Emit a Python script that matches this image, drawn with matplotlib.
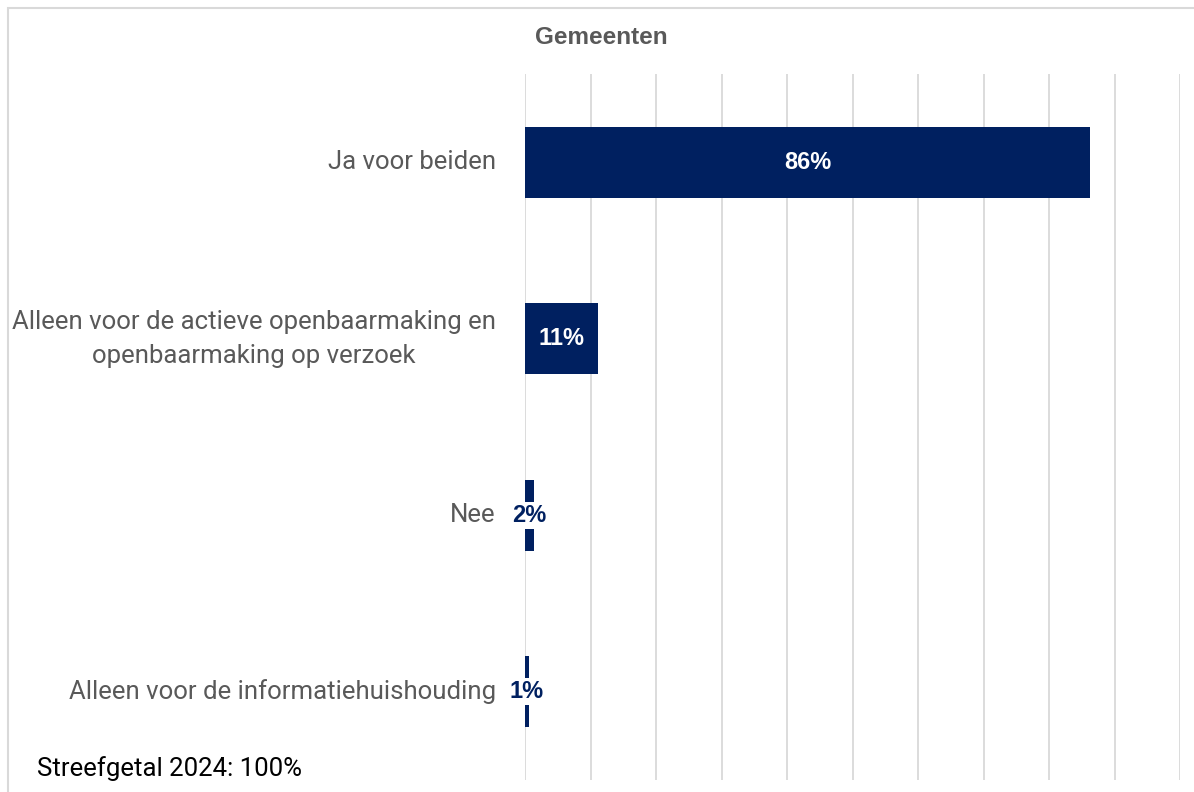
import matplotlib.pyplot as plt
from matplotlib.patches import Rectangle

categories = [
    "Ja voor beiden",
    "Alleen voor de actieve openbaarmaking en\nopenbaarmaking op verzoek",
    "Nee",
    "Alleen voor de informatiehuishouding",
]
values = [0.863, 0.111, 0.014, 0.006]
labels = ["86%", "11%", "2%", "1%"]

navy = "#002060"
grey = "#595959"

W, H = 1194, 792
fig = plt.figure(figsize=(W / 100, H / 100), dpi=100)

# outer chart frame
fig.patches.append(Rectangle((8 / W, -0.05), 1.1, 1 - 8 / H + 0.05,
                             transform=fig.transFigure, fill=False,
                             edgecolor="#d9d9d9", linewidth=1.5))

ax = fig.add_axes([525 / W, 1 - 780 / H, (1180 - 525) / W, (780 - 74) / H])
y = list(range(len(categories)))
ax.barh(y, values, height=0.4, color=navy, zorder=2)
ax.set_ylim(len(categories) - 0.5, -0.5)
ax.set_xlim(0, 1)
ax.set_xticks([i / 10 for i in range(11)])
ax.xaxis.grid(True, color="#d9d9d9", linewidth=1.3, zorder=0)
ax.tick_params(axis="x", length=0, labelbottom=False)
ax.set_yticks([])
for s in ax.spines.values():
    s.set_visible(False)

# category labels, right edge near the axis, lines centred
for yi, cat in zip(y, categories):
    ax.annotate(cat, xy=(0, yi), xycoords=("axes fraction", "data"),
                xytext=(-21, 0), textcoords="offset points", ha="right",
                va="center", multialignment="center", fontsize=18.5,
                color=grey, family="Roboto", linespacing=1.5)

for yi, v, lab in zip(y, values, labels):
    if v > 0.05:
        ax.text(v / 2, yi, lab, ha="center", va="center", color="white",
                fontsize=17, fontweight="bold", family="Liberation Sans", zorder=3)
    else:
        ax.text(v / 2, yi, lab, ha="center", va="center", color=navy,
                fontsize=17, fontweight="bold", family="Liberation Sans", zorder=3,
                bbox=dict(facecolor="white", edgecolor="none", pad=1.5))

fig.text(601 / W, 1 - 38 / H, "Gemeenten", ha="center", va="center",
         fontsize=17.5, fontweight="bold", color=grey, family="Liberation Sans")
fig.text(37 / W, 1 - 769 / H, "Streefgetal 2024: 100%", ha="left", va="center",
         fontsize=18.5, color="black", family="Roboto")

fig.savefig("out.png", dpi=100)
